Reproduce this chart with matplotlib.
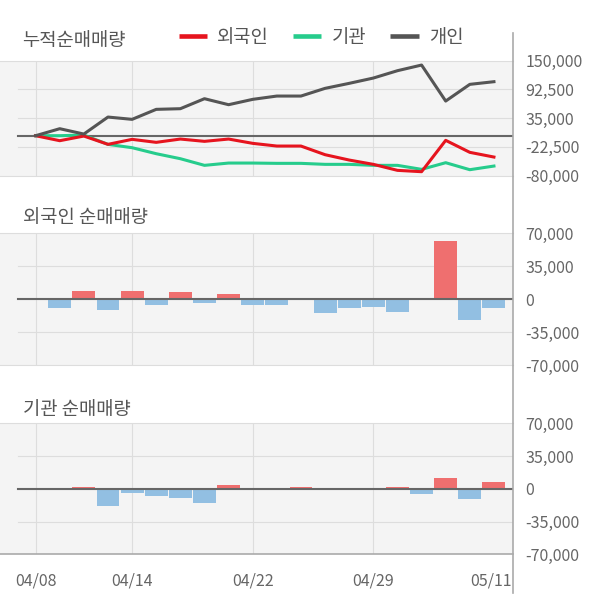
import matplotlib
matplotlib.use('Agg')
import matplotlib.pyplot as plt
import matplotlib.transforms as mtransforms
import numpy as np

plt.rcParams['font.family'] = ['Noto Sans CJK KR', 'DejaVu Sans']

# trading days (04/15, 04/30, 05/01, 05/05 are holidays)
dates = ['04/08', '04/09', '04/10', '04/13', '04/14', '04/16', '04/17', '04/20',
         '04/21', '04/22', '04/23', '04/24', '04/27', '04/28', '04/29', '05/04',
         '05/06', '05/07', '05/08', '05/11']

# cumulative net buying
cum_foreign = [0, -10000, -700, -17300, -7300, -13300, -6700, -11300, -6700, -15300,
               -20700, -20700, -38000, -48700, -57300, -69300, -72000, -9300, -33300, -42700]
cum_inst = [0, 0, 1300, -17300, -24000, -36000, -46000, -59300, -54700, -54700,
            -55300, -55300, -57300, -57300, -59300, -59300, -67300, -54000, -68000, -60700]
cum_indiv = [0, 14000, 3300, 37300, 32700, 52700, 54000, 74000, 62000, 72700,
             79300, 79300, 94700, 104700, 115300, 130000, 141300, 69300, 102700, 108000]

# daily net buying
day_foreign = [0, -9450, 8400, -11200, 8400, -5950, 7350, -3850, 5250, -5950,
               -5950, 0, -14350, -9450, -8050, -13300, -1400, 61950, -21700, -9450]
day_inst = [0, 0, 2100, -18500, -4900, -8000, -9450, -15400, 4200, 0,
            0, 2100, 0, 0, 0, 2100, -6000, 11500, -11200, 7300]

top_ticks = [150000, 92500, 35000, -22500, -80000]
top_labels = ['150,000', '92,500', '35,000', '-22,500', '-80,000']
bar_ticks = [70000, 35000, 0, -35000, -70000]
bar_labels = ['70,000', '35,000', '0', '-35,000', '-70,000']
grid_days = [0, 4, 9, 14]
label_days = [0, 4, 9, 14, 19]

W, H = 600, 604
fig = plt.figure(figsize=(6, 6.04), dpi=100)


def box(x0, y0, x1, y1):
    return [x0 / W, 1 - y1 / H, (x1 - x0) / W, (y1 - y0) / H]


x = np.arange(len(dates))
xlim = (-1.476, 19.79)
gx = 18 / 513
tick_size = 11.5


def style(ax, ticks, labels, ylim, bottom_color='#dddddd'):
    ax.set_facecolor('#f4f4f4')
    ax.set_xlim(*xlim)
    ax.set_ylim(*ylim)
    for s in ('left', 'right'):
        ax.spines[s].set_visible(False)
    ax.spines['top'].set_color('#dddddd')
    ax.spines['bottom'].set_color(bottom_color)
    ax.spines['bottom'].set_linewidth(1.2 if bottom_color != '#dddddd' else 0.8)
    ax.spines['top'].set_linewidth(0.8)
    for d in grid_days:
        ax.axvline(d, color='#dddddd', lw=0.8, zorder=0.5)
    for t in ticks[1:-1]:
        ax.axhline(t, xmin=gx, color='#dddddd', lw=0.8, zorder=0.5)
    ax.axhline(0, xmin=gx, color='#666666', lw=1.5, zorder=3)
    ax.yaxis.tick_right()
    ax.set_yticks(ticks)
    ax.set_yticklabels(labels)
    ax.tick_params(axis='y', length=0, pad=9, labelsize=tick_size, labelcolor='#666666')
    ax.set_xticks([])


top = fig.add_axes(box(0, 60.7, 513, 175.7))
mid = fig.add_axes(box(0, 233.3, 513, 365))
bot = fig.add_axes(box(0, 423.3, 513, 554.3))

style(top, top_ticks, top_labels, (-80000, 150000))
style(mid, bar_ticks, bar_labels, (-70000, 70000))
style(bot, bar_ticks, bar_labels, (-70000, 70000), bottom_color='#aaaaaa')

l_inst, = top.plot(x, cum_inst, color='#26cc8c', lw=2.2, zorder=4)
l_for, = top.plot(x, cum_foreign, color='#e6141e', lw=2.2, zorder=5)
l_ind, = top.plot(x, cum_indiv, color='#555555', lw=2.2, zorder=6)


def bar_colors(vals):
    return ['#ef6f6f' if v > 0 else '#92bfe2' for v in vals]


mid.bar(x, day_foreign, width=0.95, color=bar_colors(day_foreign), zorder=2)
bot.bar(x, day_inst, width=0.95, color=bar_colors(day_inst), zorder=2)

bot.set_xticks(label_days)
bot.set_xticklabels([dates[i] for i in label_days])
bot.tick_params(axis='x', length=0, pad=13, labelsize=tick_size, labelcolor='#666666')
last = bot.get_xticklabels()[-1]
last.set_transform(last.get_transform() +
                   mtransforms.ScaledTranslation(-3 / 100, 0, fig.dpi_scale_trans))

# right border running through all panels
frame = fig.add_axes(box(0, 33, 513, 593))
frame.set_facecolor('none')
for s in ('left', 'top', 'bottom'):
    frame.spines[s].set_visible(False)
frame.spines['right'].set_color('#aaaaaa')
frame.spines['right'].set_linewidth(1.2)
frame.set_xticks([])
frame.set_yticks([])

tc = '#555555'
title_size = 13.5
fig.text(22 / W, 1 - 40.7 / H, '누적순매매량', fontsize=title_size, color=tc, va='center', ha='left')
fig.text(23 / W, 1 - 218 / H, '외국인 순매매량', fontsize=title_size, color=tc, va='center', ha='left')
fig.text(23 / W, 1 - 410 / H, '기관 순매매량', fontsize=title_size, color=tc, va='center', ha='left')

leg = fig.legend([l_for, l_inst, l_ind], ['외국인', '기관', '개인'], loc='center',
                 bbox_to_anchor=(321 / W, 1 - 37 / H), ncol=3, frameon=False,
                 fontsize=title_size, handlelength=1.5, handletextpad=0.55, columnspacing=1.3,
                 labelcolor=tc)
for h in leg.legend_handles:
    h.set_linewidth(3.3)
    h.set_solid_capstyle('butt')

fig.savefig('out.png', dpi=100)
